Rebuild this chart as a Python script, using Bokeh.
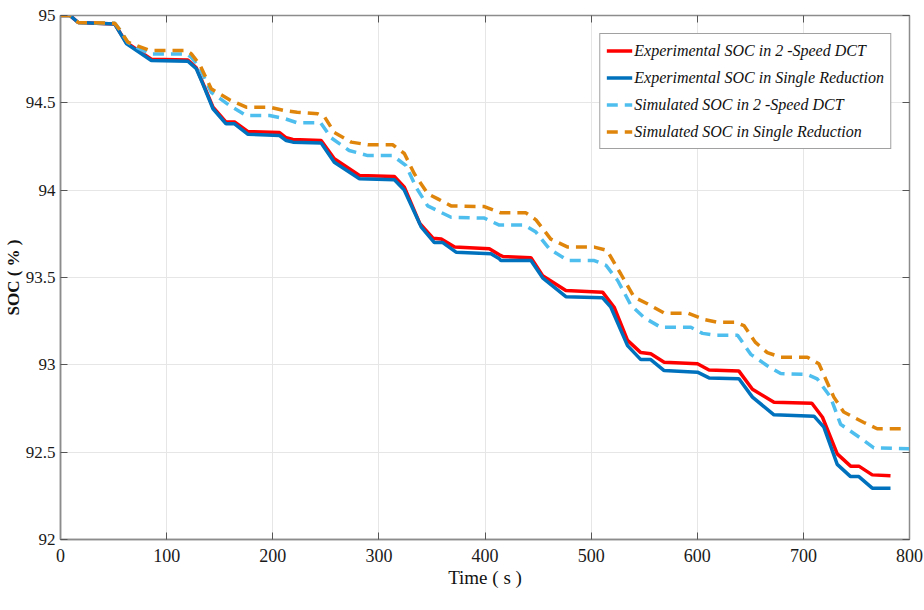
from bokeh.plotting import figure
from bokeh.models import LinearAxis, Legend, LegendItem, FixedTicker, Range1d
from bokeh.embed import file_html
from bokeh.resources import INLINE

# ---- data ----
t_exp_single = [0, 8.8, 16.7, 51, 62, 85.6, 120, 128, 134, 143.7, 156, 164, 176.7, 206.4, 212.7, 219, 245.6,
                258, 281.7, 314.6, 324, 339.8, 352.3, 360.2, 372.7, 405.6, 413.5, 415, 443.3, 454.3, 476.2,
                510.8, 518.6, 534.3, 546.8, 556.2, 568.8, 600.2, 611.1, 639.3, 652, 672.3, 710, 719.3,
                731.9, 744.5, 752.3, 764.9, 782.1]
soc_exp_single = [95.0, 95.0, 94.96, 94.952, 94.84, 94.742, 94.738, 94.695, 94.61, 94.466, 94.38, 94.38, 94.32,
                  94.313, 94.284, 94.275, 94.27, 94.16, 94.065, 94.06, 94.0, 93.79, 93.70, 93.70, 93.645,
                  93.636, 93.607, 93.597, 93.597, 93.498, 93.39, 93.384, 93.33, 93.11, 93.03, 93.03, 92.967,
                  92.958, 92.925, 92.92, 92.815, 92.714, 92.706, 92.643, 92.43, 92.36, 92.36, 92.294, 92.294]

t_exp_dct = [0, 8.8, 16.7, 51, 62, 85.6, 120, 128, 134, 143.7, 156, 164, 176.7, 206.4, 212.7, 219, 245.6,
             258, 281.7, 314.6, 324, 338.5, 351, 358.8, 371.4, 404.1, 413.5, 417, 443.3, 454.3, 476.2,
             510.8, 521.7, 534.3, 546.8, 556.2, 568.8, 600.2, 611.1, 639.3, 652, 672.3, 708, 718,
             731.9, 744.5, 752.3, 764.9, 782.1]
soc_exp_dct = [95.0, 95.0, 94.96, 94.952, 94.845, 94.75, 94.745, 94.70, 94.615, 94.475, 94.39, 94.39, 94.335,
               94.33, 94.30, 94.29, 94.284, 94.18, 94.084, 94.078, 94.017, 93.81, 93.725, 93.72, 93.674,
               93.664, 93.63, 93.62, 93.613, 93.51, 93.426, 93.416, 93.33, 93.14, 93.07, 93.063, 93.015,
               93.006, 92.97, 92.964, 92.86, 92.786, 92.78, 92.70, 92.49, 92.42, 92.42, 92.37, 92.365]

t_sim_dct = [0, 8.8, 16.7, 51, 55.7, 63.5, 84, 118.6, 123.3, 131.1, 142, 159.3, 175, 197, 211, 223, 245,
             255, 272, 289.6, 313, 325.6, 335, 346, 368, 399.4, 413.5, 437, 448, 460.5, 478, 503, 514,
             525, 537.6, 550, 565.6, 594, 605, 616, 638, 650.4, 666, 678.6, 703.7, 713, 725.6, 735, 754,
             766.4, 800]
soc_sim_dct = [95.0, 95.0, 94.96, 94.956, 94.92, 94.845, 94.78, 94.78, 94.76, 94.70, 94.56, 94.485, 94.427,
               94.427, 94.41, 94.386, 94.386, 94.30, 94.227, 94.198, 94.198, 94.14, 94.017, 93.91, 93.845,
               93.84, 93.80, 93.80, 93.76, 93.665, 93.597, 93.597, 93.57, 93.483, 93.34, 93.27, 93.215,
               93.215, 93.18, 93.17, 93.17, 93.06, 92.995, 92.95, 92.945, 92.92, 92.815, 92.66, 92.58,
               92.525, 92.52]

t_sim_single = [0, 8.8, 16.7, 51, 55.7, 63.5, 84, 118.6, 123.3, 131.1, 142, 159.3, 175, 197, 211, 223, 242.5,
                249, 258, 274, 289.6, 313, 324, 333.4, 346, 355.5, 368, 399.4, 415, 438.6, 448, 462, 478,
                503, 515, 528, 540.5, 553, 569, 591, 606.4, 619, 636, 644, 654.6, 666, 678.6, 703.7, 714.6,
                728.7, 738, 757, 769.5, 794.6]
soc_sim_single = [95.0, 95.0, 94.96, 94.956, 94.92, 94.847, 94.80, 94.80, 94.78, 94.72, 94.58, 94.517, 94.475,
                  94.475, 94.456, 94.446, 94.437, 94.418, 94.33, 94.275, 94.26, 94.26, 94.21, 94.094, 93.98,
                  93.95, 93.91, 93.906, 93.87, 93.87, 93.83, 93.72, 93.674, 93.674, 93.655, 93.52, 93.387,
                  93.35, 93.296, 93.296, 93.26, 93.244, 93.244, 93.225, 93.13, 93.07, 93.044, 93.044,
                  93.006, 92.815, 92.73, 92.67, 92.634, 92.634]

series_labels = ["Experimental SOC in 2 -Speed DCT",
                 "Experimental SOC in Single Reduction",
                 "Simulated SOC in 2 -Speed DCT",
                 "Simulated SOC in Single Reduction"]

x_ticks = [0, 100, 200, 300, 400, 500, 600, 700, 800]
y_ticks = [92, 92.5, 93, 93.5, 94, 94.5, 95]
y_tick_labels = ["92", "92.5", "93", "93.5", "94", "94.5", "95"]

FONT = "Liberation Serif"
AX_COLOR = "#8c8c8c"

p = figure(width=924, height=610, output_backend="svg", toolbar_location=None,
           x_range=Range1d(0, 800), y_range=Range1d(92, 95),
           min_border_left=59, min_border_right=15, min_border_top=15, min_border_bottom=71)
p.outline_line_color = AX_COLOR
p.outline_line_width = 1.5
p.background_fill_color = "white"

r1 = p.line(t_exp_dct, soc_exp_dct, line_color="#FF0000", line_width=3.5)
r2 = p.line(t_exp_single, soc_exp_single, line_color="#0072BD", line_width=3.5)
r3 = p.line(t_sim_dct, soc_sim_dct, line_color="#4DBEEE", line_width=3.5, line_dash="11 7")
r4 = p.line(t_sim_single, soc_sim_single, line_color="#E0850B", line_width=3.5, line_dash="11 7")

# axes
xa = p.xaxis[0]
ya = p.yaxis[0]
xa.ticker = FixedTicker(ticks=x_ticks)
ya.ticker = FixedTicker(ticks=y_ticks)
ya.major_label_overrides = {t: s for t, s in zip(y_ticks, y_tick_labels)}
for ax in (xa, ya):
    ax.axis_line_color = AX_COLOR
    ax.axis_line_width = 1.5
    ax.major_tick_in = 7
    ax.major_tick_out = 0
    ax.major_tick_line_color = "#555555"
    ax.minor_tick_line_color = None
    ax.major_label_text_font = FONT
    ax.major_label_text_font_size = "18px"
    ax.major_label_text_color = "#1a1a1a"
    ax.axis_label_text_font = FONT
    ax.axis_label_text_color = "#111111"
xa.axis_label = "Time ( s )"
xa.axis_label_text_font_size = "19px"
xa.axis_label_text_font_style = "normal"
xa.major_label_standoff = 9
xa.axis_label_standoff = 2
ya.major_label_text_font_size = "17px"
ya.axis_label = "SOC ( % )"
ya.axis_label_text_font_size = "17px"
ya.axis_label_text_font_style = "bold"
ya.major_label_standoff = 5
ya.axis_label_standoff = 0

# mirrored ticks on top/right (no labels)
top = LinearAxis(ticker=FixedTicker(ticks=x_ticks), major_label_text_color=None,
                 major_label_text_font_size="1px",
                 major_tick_in=7, major_tick_out=0, minor_tick_line_color=None,
                 axis_line_color=AX_COLOR, major_tick_line_color="#555555", major_label_standoff=0)
right = LinearAxis(ticker=FixedTicker(ticks=y_ticks), major_label_text_color=None,
                   major_label_text_font_size="1px",
                   major_tick_in=7, major_tick_out=0, minor_tick_line_color=None,
                   axis_line_color=AX_COLOR, major_tick_line_color="#555555", major_label_standoff=0)
p.add_layout(top, "above")
p.add_layout(right, "right")

p.xgrid.grid_line_color = "#e6e6e6"
p.ygrid.grid_line_color = "#e6e6e6"
p.xgrid.ticker = FixedTicker(ticks=x_ticks)
p.ygrid.ticker = FixedTicker(ticks=y_ticks)

legend = Legend(items=[LegendItem(label=series_labels[0], renderers=[r1]),
                       LegendItem(label=series_labels[1], renderers=[r2]),
                       LegendItem(label=series_labels[2], renderers=[r3]),
                       LegendItem(label=series_labels[3], renderers=[r4])],
                location="top_right")
legend.margin = 18
legend.padding = 6
legend.spacing = 6
legend.glyph_width = 26
legend.glyph_height = 21
legend.label_standoff = 2
legend.label_text_font = FONT
legend.label_text_font_size = "16px"
legend.label_text_font_style = "italic"
legend.label_text_color = "#111111"
legend.border_line_color = "#444444"
legend.border_line_width = 1
legend.background_fill_alpha = 1.0
p.add_layout(legend)

open("out.html", "w").write(file_html(p, INLINE))
